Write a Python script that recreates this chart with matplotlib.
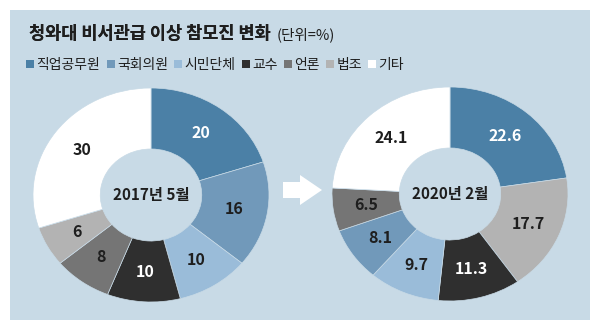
import matplotlib.pyplot as plt
import numpy as np
from matplotlib import font_manager
from matplotlib.lines import Line2D
from matplotlib.patches import Rectangle, FancyArrow

plt.rcParams['font.family'] = ['Noto Sans CJK KR', 'DejaVu Sans']

# Data
categories = ['직업공무원', '국회의원', '시민단체', '교수', '언론', '법조', '기타']
colors = {'직업공무원': '#4b80a6', '국회의원': '#7199ba', '시민단체': '#9abcd9',
          '교수': '#2f2f2f', '언론': '#757575', '법조': '#b3b3b3', '기타': '#ffffff'}

order_2017 = ['직업공무원', '국회의원', '시민단체', '교수', '언론', '법조', '기타']
values_2017 = [20, 16, 10, 10, 8, 6, 30]
labels_2017 = ['20', '16', '10', '10', '8', '6', '30']

order_2020 = ['직업공무원', '법조', '교수', '시민단체', '국회의원', '언론', '기타']
values_2020 = [22.6, 17.7, 11.3, 9.7, 8.1, 6.5, 24.1]
labels_2020 = ['22.6', '17.7', '11.3', '9.7', '8.1', '6.5', '24.1']

bg = '#c8dae6'
W, H = 600, 328

# narrow face for the numbers, if one is installed
installed = font_manager.fontManager.ttflist
names = {f.name for f in installed}
if 'Liberation Sans Narrow' in names:
    num_font = ['Liberation Sans Narrow', 'Noto Sans CJK KR']
    num_size, center_size = 13, 13
else:
    num_font = ['Noto Sans CJK KR', 'DejaVu Sans']
    num_size, center_size = 11.5, 11

fig = plt.figure(figsize=(6, 3.28), dpi=100, facecolor='white')

# background panel and arrow in pixel coordinates
bgax = fig.add_axes([0, 0, 1, 1])
bgax.set_xlim(0, W)
bgax.set_ylim(H, 0)
bgax.axis('off')
bgax.add_patch(Rectangle((10, 10), 580, 310, facecolor=bg, edgecolor='none'))
bgax.add_patch(FancyArrow(283, 190, 39, 0, width=16, head_width=30, head_length=22,
                          length_includes_head=True, facecolor='white', edgecolor='none'))


def donut(rect, order, values, labels, center_text):
    ax = fig.add_axes(rect)
    wedges, _ = ax.pie(values, colors=[colors[c] for c in order], startangle=90,
                       counterclock=False, radius=1,
                       wedgeprops=dict(width=0.57, edgecolor=bg, linewidth=0.5))
    ax.set_aspect('auto')
    ax.set_xlim(-1, 1)
    ax.set_ylim(-1, 1)
    ax.axis('off')
    for w, cat, lab in zip(wedges, order, labels):
        ang = np.deg2rad((w.theta1 + w.theta2) / 2)
        r = 0.72
        tc = 'white' if cat in ('직업공무원', '교수') else '#1e1e1e'
        ax.text(r * np.cos(ang), r * np.sin(ang), lab, ha='center', va='center',
                fontsize=num_size, fontweight='bold', color=tc, family=num_font)
    ax.text(0, 0, center_text, ha='center', va='center', fontsize=center_size,
            fontweight='bold', color='#1e1e1e', family=num_font)


donut([33 / W, 26 / H, 236 / W, 214 / H], order_2017, values_2017, labels_2017, '2017년 5월')
donut([332 / W, 27 / H, 236 / W, 214 / H], order_2020, values_2020, labels_2020, '2020년 2월')

# title with the unit note right after it
title = fig.text(29 / W, 1 - 34 / H, '청와대 비서관급 이상 참모진 변화', fontsize=12.6,
                 fontweight='bold', color='#1e1e1e', ha='left', va='center')
fig.add_artist(title)
plt.annotate('(단위=%)', xy=(1, 0.5), xycoords=title, xytext=(4, -0.5),
             textcoords='offset points', fontsize=10.5, color='#1e1e1e',
             ha='left', va='center', annotation_clip=False)

# legend
handles = [Line2D([], [], marker='s', ls='', markersize=6, color=colors[c],
                  markeredgewidth=0) for c in categories]
fig.legend(handles, categories, ncol=7, loc='center left',
           bbox_to_anchor=(26 / W, 1 - 65 / H), frameon=False,
           handlelength=0.6, handletextpad=0.15, columnspacing=0.45,
           borderpad=0, borderaxespad=0, prop=dict(family='Noto Sans CJK KR', size=10),
           labelcolor='#1e1e1e')

plt.savefig('out.png', dpi=100, facecolor='white')
